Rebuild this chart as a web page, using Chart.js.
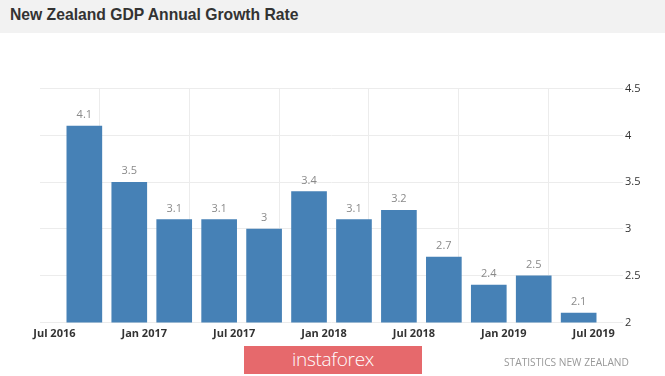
<!DOCTYPE html>
<html>
<head>
<meta charset="utf-8">
<script src="https://cdn.jsdelivr.net/npm/chart.js@4.4.1/dist/chart.umd.min.js"></script>
<style>
  html, body { margin:0; padding:0; background:#fff; width:665px; height:376px; overflow:hidden; }
  #band { position:absolute; left:0; top:0; width:665px; height:33px; background:#f2f2f2; }
  #title { position:absolute; left:10px; top:6px; font:bold 15.7px "Liberation Sans", Arial, sans-serif; color:#333; white-space:nowrap; }
  #wrap { position:absolute; left:0; top:0; width:665px; height:376px; }
  #logo { position:absolute; left:244px; top:346px; width:178px; height:28px; background:#e6696c; color:#fff;
          font:300 19px "Open Sans", sans-serif; letter-spacing:-0.3px; text-align:center; line-height:27px; }
  #src { position:absolute; left:504px; top:355px; font:10.2px "Open Sans", sans-serif; color:#999; white-space:nowrap; }
</style>
</head>
<body>
<div id="band"></div>
<div id="title">New Zealand GDP Annual Growth Rate</div>
<div id="wrap"><canvas id="c" width="665" height="376"></canvas></div>
<div id="logo">instaforex</div>
<div id="src">STATISTICS NEW ZEALAND</div>
<script>
// Quarter-end dates of each bar
const quarters = ['2016-09','2016-12','2017-03','2017-06','2017-09','2017-12','2018-03','2018-06','2018-09','2018-12','2019-03','2019-06'];
// Annual GDP growth rate (%)
const growth = [4.1, 3.5, 3.1, 3.1, 3.0, 3.4, 3.1, 3.2, 2.7, 2.4, 2.5, 2.1];
// X-axis tick labels (every 6 months from Jul 2016)
const xTickLabels = ['Jul 2016','Jan 2017','Jul 2017','Jan 2018','Jul 2018','Jan 2019','Jul 2019'];
// Y-axis ticks
const yTicks = [2, 2.5, 3, 3.5, 4, 4.5];

function monthsSinceJul2016(s) {
  const [y, m] = s.split('-').map(Number);
  return (y - 2016) * 12 + (m - 7);
}
const points = quarters.map((q, i) => ({ x: monthsSinceJul2016(q), y: growth[i] }));

const valueLabels = {
  id: 'valueLabels',
  afterDatasetsDraw(chart) {
    const ctx = chart.ctx;
    const meta = chart.getDatasetMeta(0);
    ctx.save();
    ctx.font = '11px "Open Sans", sans-serif';
    ctx.fillStyle = '#8a8a8a';
    ctx.textAlign = 'center';
    ctx.textBaseline = 'middle';
    meta.data.forEach((el, i) => {
      ctx.fillText(String(growth[i]), el.x, el.y - 11);
    });
    ctx.restore();
  }
};

new Chart(document.getElementById('c'), {
  type: 'bar',
  data: {
    datasets: [{
      data: points,
      backgroundColor: '#4681b6',
      barThickness: 35,
      borderWidth: 0
    }]
  },
  options: {
    responsive: false,
    animation: false,
    layout: { padding: { left: 40, top: 88.7, right: 0, bottom: 33.5 } },
    plugins: { legend: { display: false }, tooltip: { enabled: false }, title: { display: false } },
    scales: {
      x: {
        type: 'linear',
        min: -0.96,
        max: 37.96,
        offset: false,
        border: { display: false },
        grid: { color: '#ececec', drawTicks: false, lineWidth: 1 },
        afterBuildTicks(scale) {
          scale.ticks = xTickLabels.map((_, i) => ({ value: i * 6 }));
        },
        afterFit(scale) { scale.height = 20; },
        ticks: {
          autoSkip: false,
          maxRotation: 0,
          padding: 5,
          color: '#333',
          font: { family: '"Open Sans", sans-serif', size: 11, weight: 'bold' },
          callback(v) { return xTickLabels[Math.round(v / 6)]; }
        }
      },
      y: {
        position: 'right',
        min: 2,
        max: 4.5,
        border: { display: false },
        grid: { color: '#ececec', drawTicks: false, lineWidth: 1 },
        afterBuildTicks(scale) {
          scale.ticks = yTicks.map(v => ({ value: v }));
        },
        afterFit(scale) { scale.width = 42; },
        ticks: {
          padding: 2,
          color: '#333',
          font: { family: '"Open Sans", sans-serif', size: 11 },
          callback(v) { return String(v); }
        }
      }
    }
  },
  plugins: [valueLabels]
});
</script>
</body>
</html>
